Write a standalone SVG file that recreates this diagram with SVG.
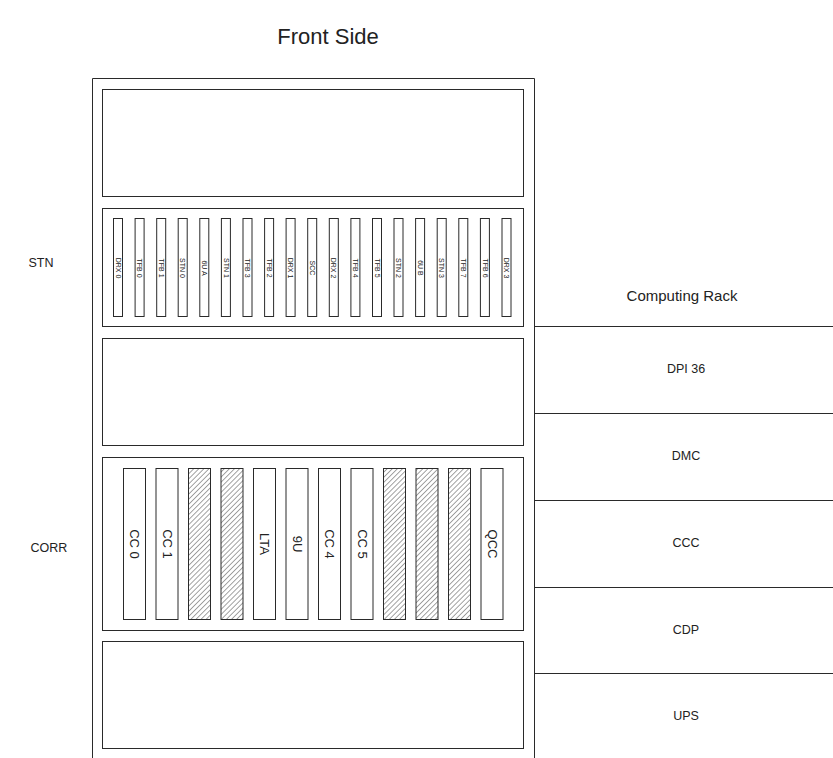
<svg xmlns="http://www.w3.org/2000/svg" width="833" height="758" viewBox="0 0 833 758">
<style>
.ln{fill:none;stroke:#2a2a2a;stroke-width:1}
.box{fill:#fff;stroke:#2a2a2a;stroke-width:1}
.hb{fill:url(#hatch);stroke:#2a2a2a;stroke-width:1}
.t{font-family:"Liberation Sans",Arial,sans-serif;fill:#222}
.s{font-size:7px}
.c{font-size:13px}
.r{font-size:12.5px}
</style>
<defs>
<pattern id="hatch" width="3.6" height="3.6" patternUnits="userSpaceOnUse" patternTransform="rotate(45)">
<rect width="3.6" height="3.6" fill="#fff"/>
<line x1="0" y1="0" x2="0" y2="3.6" stroke="#333" stroke-width="0.9"/>
</pattern>
</defs>
<rect width="833" height="758" fill="#fff"/>
<text class="t" x="328" y="44" font-size="22" text-anchor="middle">Front Side</text>
<g id="rack">
<path class="ln" d="M92.5 758 V78.5 H534.5 V758"/>
</g>
<g id="top-panel"><rect class="box" x="102.5" y="89.5" width="421" height="107"/></g>
<g id="stn">
<rect class="box" x="102.5" y="208.5" width="421" height="118"/>
<g class="slots">
<rect class="box" x="113.5" y="218.5" width="9" height="98"/>
<rect class="box" x="135.1" y="218.5" width="9" height="98"/>
<rect class="box" x="156.7" y="218.5" width="9" height="98"/>
<rect class="box" x="178.2" y="218.5" width="9" height="98"/>
<rect class="box" x="199.8" y="218.5" width="9" height="98"/>
<rect class="box" x="221.4" y="218.5" width="9" height="98"/>
<rect class="box" x="243.0" y="218.5" width="9" height="98"/>
<rect class="box" x="264.6" y="218.5" width="9" height="98"/>
<rect class="box" x="286.1" y="218.5" width="9" height="98"/>
<rect class="box" x="307.7" y="218.5" width="9" height="98"/>
<rect class="box" x="329.3" y="218.5" width="9" height="98"/>
<rect class="box" x="350.9" y="218.5" width="9" height="98"/>
<rect class="box" x="372.5" y="218.5" width="9" height="98"/>
<rect class="box" x="394.0" y="218.5" width="9" height="98"/>
<rect class="box" x="415.6" y="218.5" width="9" height="98"/>
<rect class="box" x="437.2" y="218.5" width="9" height="98"/>
<rect class="box" x="458.8" y="218.5" width="9" height="98"/>
<rect class="box" x="480.4" y="218.5" width="9" height="98"/>
<rect class="box" x="502.0" y="218.5" width="9" height="98"/>
</g>
<g class="t s" text-anchor="middle">
<text transform="translate(115.6 268) rotate(90)">DRX 0</text>
<text transform="translate(137.2 268) rotate(90)">TFB 0</text>
<text transform="translate(158.8 268) rotate(90)">TFB 1</text>
<text transform="translate(180.3 268) rotate(90)">STN 0</text>
<text transform="translate(201.9 268) rotate(90)">6U A</text>
<text transform="translate(223.5 268) rotate(90)">STN 1</text>
<text transform="translate(245.1 268) rotate(90)">TFB 3</text>
<text transform="translate(266.7 268) rotate(90)">TFB 2</text>
<text transform="translate(288.2 268) rotate(90)">DRX 1</text>
<text transform="translate(309.8 268) rotate(90)">SCC</text>
<text transform="translate(331.4 268) rotate(90)">DRX 2</text>
<text transform="translate(353.0 268) rotate(90)">TFB 4</text>
<text transform="translate(374.6 268) rotate(90)">TFB 5</text>
<text transform="translate(396.1 268) rotate(90)">STN 2</text>
<text transform="translate(417.7 268) rotate(90)">6U B</text>
<text transform="translate(439.3 268) rotate(90)">STN 3</text>
<text transform="translate(460.9 268) rotate(90)">TFB 7</text>
<text transform="translate(482.5 268) rotate(90)">TFB 6</text>
<text transform="translate(504.1 268) rotate(90)">DRX 3</text>
</g>
</g>
<g id="mid-panel"><rect class="box" x="102.5" y="338.5" width="421" height="107"/></g>
<g id="corr">
<rect class="box" x="102.5" y="457.5" width="421" height="173"/>
<rect class="box" x="123.5" y="468.5" width="22" height="151"/>
<rect class="box" x="156.0" y="468.5" width="22" height="151"/>
<rect class="hb" x="188.5" y="468.5" width="22" height="151"/>
<rect class="hb" x="221.0" y="468.5" width="22" height="151"/>
<rect class="box" x="253.5" y="468.5" width="22" height="151"/>
<rect class="box" x="286.0" y="468.5" width="22" height="151"/>
<rect class="box" x="318.5" y="468.5" width="22" height="151"/>
<rect class="box" x="351.0" y="468.5" width="22" height="151"/>
<rect class="hb" x="383.5" y="468.5" width="22" height="151"/>
<rect class="hb" x="416.0" y="468.5" width="22" height="151"/>
<rect class="hb" x="448.5" y="468.5" width="22" height="151"/>
<rect class="box" x="481.0" y="468.5" width="22" height="151"/>
<g class="t c" text-anchor="middle">
<text transform="translate(130 544) rotate(90)">CC 0</text>
<text transform="translate(162.5 544) rotate(90)">CC 1</text>
<text transform="translate(260 544) rotate(90)">LTA</text>
<text transform="translate(292.5 544) rotate(90)">9U</text>
<text transform="translate(325 544) rotate(90)">CC 4</text>
<text transform="translate(357.5 544) rotate(90)">CC 5</text>
<text transform="translate(487.5 544) rotate(90)">QCC</text>
</g>
</g>
<g id="bottom-panel"><rect class="box" x="102.5" y="641.5" width="421" height="107"/></g>
<g id="left-labels" class="t r" text-anchor="middle">
<text x="41" y="267">STN</text>
<text x="49" y="552">CORR</text>
</g>
<g id="computing-rack">
<text class="t" x="682" y="301" font-size="15" text-anchor="middle">Computing Rack</text>
<path class="ln" d="M534.5 326.5 H833 M534.5 413.5 H833 M534.5 500.5 H833 M534.5 587.5 H833 M534.5 673.5 H833"/>
<g class="t r" text-anchor="middle">
<text x="686" y="373">DPI 36</text>
<text x="686" y="460">DMC</text>
<text x="686" y="547">CCC</text>
<text x="686" y="634">CDP</text>
<text x="686" y="720">UPS</text>
</g>
</g>
</svg>
